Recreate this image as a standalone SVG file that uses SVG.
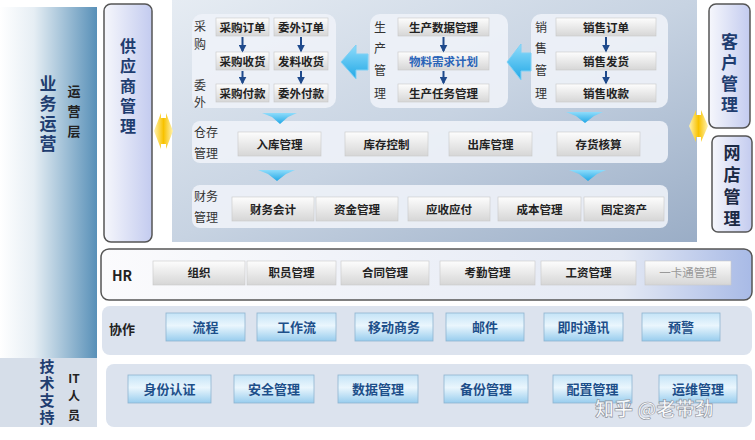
<svg xmlns="http://www.w3.org/2000/svg" width="755" height="440" viewBox="0 0 755 440">
<defs>
<linearGradient id="gLeft" x1="0" y1="0" x2="1" y2="0"><stop offset="0" stop-color="#ffffff"/><stop offset="0.35" stop-color="#e6eef4"/><stop offset="1" stop-color="#5890b8"/></linearGradient>
<linearGradient id="gSide" x1="0" y1="0" x2="1" y2="0"><stop offset="0" stop-color="#f6f7fc"/><stop offset="1" stop-color="#c3cbef"/></linearGradient>
<linearGradient id="gMain" x1="0" y1="0" x2="1" y2="1"><stop offset="0" stop-color="#e6ecf3"/><stop offset="0.5" stop-color="#c7d3e2"/><stop offset="1" stop-color="#9aadc6"/></linearGradient>
<linearGradient id="gBtn" x1="0" y1="0" x2="0" y2="1"><stop offset="0" stop-color="#fdfdfd"/><stop offset="1" stop-color="#d6d6d6"/></linearGradient>
<linearGradient id="gHR" x1="0" y1="0" x2="1" y2="0"><stop offset="0" stop-color="#fbfbfd"/><stop offset="0.8" stop-color="#e4e9f4"/><stop offset="1" stop-color="#a8bae6"/></linearGradient>
<linearGradient id="gBlue" x1="0" y1="0" x2="0" y2="1"><stop offset="0" stop-color="#c4e3f7"/><stop offset="0.45" stop-color="#eaf6fd"/><stop offset="1" stop-color="#98cdee"/></linearGradient>
<linearGradient id="gCyan" x1="0" y1="0" x2="0" y2="1"><stop offset="0" stop-color="#8fdcfb"/><stop offset="1" stop-color="#22a8e6"/></linearGradient>
<linearGradient id="gGold" x1="0" y1="0" x2="1" y2="0"><stop offset="0" stop-color="#fff2b0"/><stop offset="0.5" stop-color="#f8c200"/><stop offset="1" stop-color="#fff2b0"/></linearGradient>
<marker id="ah" viewBox="0 0 10 10" refX="8" refY="5" markerWidth="4" markerHeight="4" orient="auto"><path d="M0,0 L10,5 L0,10 z" fill="#1f4a8c"/></marker>
<style>
text{font-family:"Noto Sans CJK SC","Noto Sans",sans-serif;font-weight:bold;}
.btn{fill:url(#gBtn);stroke:#c8c8c8;stroke-width:0.6;}
.bb{fill:url(#gBlue);stroke:#8fb4cf;stroke-width:0.8;}
.bt{font-size:11.5px;fill:#222;text-anchor:middle;}
.bbt{font-size:13px;fill:#1d4f8a;text-anchor:middle;}
.wbox{fill:#eef2f8;fill-opacity:0.9;}
.lab{font-size:12px;fill:#333;font-weight:normal;}
.side{fill:url(#gSide);stroke:#555;stroke-width:1.5;}
.vw{writing-mode:vertical-rl;text-anchor:start;fill:#1f3d70;}
.nv{fill:#1f3d70;text-anchor:middle;}
.arr{stroke:#1f4a8c;stroke-width:2;marker-end:url(#ah);}
.chev{fill:url(#gCyan);}
.big{fill:url(#gCyan);stroke:#7fd0f5;stroke-width:1;}
.gold{fill:url(#gGold);}
</style>
</defs>
<rect width="755" height="440" fill="#ffffff"/>

<g id="left-ops">
<rect x="0" y="7" width="97" height="351" fill="url(#gLeft)"/>
<text class="vw" x="48" y="75.5" style="font-size:17px;letter-spacing:3px">业务运营</text>
<text class="nv" font-size="13" style="fill:#222"><tspan x="74" y="96">运</tspan><tspan x="74" y="116">营</tspan><tspan x="74" y="136">层</tspan></text>
</g>
<g id="left-tech">
<rect x="0" y="358" width="97" height="69" fill="#d6dee9"/>
<text class="vw" x="47" y="359" style="font-size:15px;letter-spacing:2px">技术支持</text>
<text class="nv" font-size="12" style="fill:#222"><tspan x="74" y="383">IT</tspan><tspan x="74" y="401">人</tspan><tspan x="74" y="420">员</tspan></text>
</g>

<g id="supplier">
<rect class="side" x="104" y="4" width="48" height="238" rx="7"/>
<text class="vw" x="128" y="38" style="font-size:16px;letter-spacing:4px">供应商管理</text>
</g>

<g id="main-panel">
<rect x="172" y="0" width="525" height="242" fill="url(#gMain)"/>
</g>

<g id="purchase">
<rect class="wbox" x="192" y="14" width="144" height="94" rx="10"/>
<text class="lab"><tspan x="194" y="31">采</tspan><tspan x="194" y="49">购</tspan><tspan x="194" y="90">委</tspan><tspan x="194" y="107">外</tspan></text>
<rect class="btn" x="216" y="18" width="53" height="18"/><text class="bt" x="242.5" y="31.5">采购订单</text>
<rect class="btn" x="274" y="18" width="54" height="18"/><text class="bt" x="301" y="31.5">委外订单</text>
<rect class="btn" x="216" y="52" width="53" height="18"/><text class="bt" x="242.5" y="65.5">采购收货</text>
<rect class="btn" x="274" y="52" width="54" height="18"/><text class="bt" x="301" y="65.5">发料收货</text>
<rect class="btn" x="216" y="84" width="53" height="18"/><text class="bt" x="242.5" y="97.5">采购付款</text>
<rect class="btn" x="274" y="84" width="54" height="18"/><text class="bt" x="301" y="97.5">委外付款</text>
</g>

<g id="production">
<rect class="wbox" x="370" y="14" width="138" height="94" rx="10"/>
<text class="lab" font-size="13"><tspan x="374" y="32">生</tspan><tspan x="374" y="53">产</tspan><tspan x="374" y="75">管</tspan><tspan x="374" y="98">理</tspan></text>
<rect class="btn" x="398" y="18" width="91" height="18"/><text class="bt" x="443.5" y="31.5">生产数据管理</text>
<rect class="btn" x="398" y="52" width="91" height="18"/><text class="bt" x="443.5" y="65.5" style="fill:#2a64b8">物料需求计划</text>
<rect class="btn" x="398" y="84" width="91" height="18"/><text class="bt" x="443.5" y="97.5">生产任务管理</text>
</g>

<g id="sales">
<rect class="wbox" x="531" y="14" width="137" height="94" rx="10"/>
<text class="lab" font-size="13"><tspan x="535" y="32">销</tspan><tspan x="535" y="53">售</tspan><tspan x="535" y="75">管</tspan><tspan x="535" y="98">理</tspan></text>
<rect class="btn" x="556" y="18" width="100" height="18"/><text class="bt" x="606" y="31.5">销售订单</text>
<rect class="btn" x="556" y="52" width="100" height="18"/><text class="bt" x="606" y="65.5">销售发货</text>
<rect class="btn" x="556" y="84" width="100" height="18"/><text class="bt" x="606" y="97.5">销售收款</text>
</g>

<g id="warehouse">
<rect class="wbox" x="192" y="121" width="476" height="42" rx="8"/>
<text class="lab"><tspan x="194" y="137">仓存</tspan><tspan x="194" y="158">管理</tspan></text>
<rect class="btn" x="238" y="132" width="83" height="24"/><text class="bt" x="279.5" y="148.5">入库管理</text>
<rect class="btn" x="345" y="132" width="83" height="24"/><text class="bt" x="386.5" y="148.5">库存控制</text>
<rect class="btn" x="449" y="132" width="83" height="24"/><text class="bt" x="490.5" y="148.5">出库管理</text>
<rect class="btn" x="557" y="132" width="83" height="24"/><text class="bt" x="598.5" y="148.5">存货核算</text>
</g>

<g id="finance">
<rect class="wbox" x="192" y="185" width="476" height="43" rx="8"/>
<text class="lab"><tspan x="194" y="201">财务</tspan><tspan x="194" y="222">管理</tspan></text>
<rect class="btn" x="232" y="197" width="82" height="24"/><text class="bt" x="273" y="213.5">财务会计</text>
<rect class="btn" x="316" y="197" width="82" height="24"/><text class="bt" x="357" y="213.5">资金管理</text>
<rect class="btn" x="408" y="197" width="82" height="24"/><text class="bt" x="449" y="213.5">应收应付</text>
<rect class="btn" x="498" y="197" width="83" height="24"/><text class="bt" x="539.5" y="213.5">成本管理</text>
<rect class="btn" x="584" y="197" width="80" height="24"/><text class="bt" x="624" y="213.5">固定资产</text>
</g>

<g id="customer">
<rect class="side" x="709" y="4" width="41" height="124" rx="7"/>
<text class="vw" x="729.5" y="33.5" style="font-size:17px;letter-spacing:3.7px">客户管理</text>
</g>
<g id="eshop">
<rect class="side" x="712" y="136" width="40" height="96" rx="6"/>
<text class="vw" x="732" y="144.5" style="font-size:17px;letter-spacing:5px;fill:#1c2a44">网店管理</text>
</g>

<g id="hr">
<rect x="101" y="249" width="651" height="51" rx="8" fill="url(#gHR)" stroke="#555" stroke-width="1.5"/>
<text x="112" y="281" font-size="14" fill="#222" font-family="Liberation Sans,sans-serif">HR</text>
<rect class="btn" x="153" y="261" width="92" height="24"/><text class="bt" x="199" y="277">组织</text>
<rect class="btn" x="247" y="261" width="89" height="24"/><text class="bt" x="291.5" y="277">职员管理</text>
<rect class="btn" x="341" y="261" width="88" height="24"/><text class="bt" x="385" y="277">合同管理</text>
<rect class="btn" x="440" y="261" width="95" height="24"/><text class="bt" x="487.5" y="277">考勤管理</text>
<rect class="btn" x="541" y="261" width="95" height="24"/><text class="bt" x="588.5" y="277">工资管理</text>
<rect class="btn" x="645" y="261" width="86" height="24"/><text class="bt" x="688" y="277" style="fill:#999;font-weight:normal">一卡通管理</text>
</g>

<g id="collab">
<rect x="102" y="306" width="650" height="49" rx="8" fill="#dce3ee"/>
<text x="109" y="334" font-size="13" fill="#222">协作</text>
<rect class="bb" x="166" y="313" width="79" height="28"/><text class="bbt" x="205.5" y="332">流程</text>
<rect class="bb" x="257" y="313" width="79" height="28"/><text class="bbt" x="296.5" y="332">工作流</text>
<rect class="bb" x="355" y="313" width="78" height="28"/><text class="bbt" x="394" y="332">移动商务</text>
<rect class="bb" x="446" y="313" width="78" height="28"/><text class="bbt" x="485" y="332">邮件</text>
<rect class="bb" x="544" y="313" width="79" height="28"/><text class="bbt" x="583.5" y="332">即时通讯</text>
<rect class="bb" x="642" y="313" width="78" height="28"/><text class="bbt" x="681" y="332">预警</text>
</g>

<g id="it">
<rect x="106" y="364" width="646" height="63" rx="8" fill="#dce3ee"/>
<rect class="bb" x="128" y="375" width="83" height="28"/><text class="bbt" x="169.5" y="394">身份认证</text>
<rect class="bb" x="234" y="375" width="80" height="28"/><text class="bbt" x="274" y="394">安全管理</text>
<rect class="bb" x="338" y="375" width="80" height="28"/><text class="bbt" x="378" y="394">数据管理</text>
<rect class="bb" x="444" y="375" width="84" height="28"/><text class="bbt" x="486" y="394">备份管理</text>
<rect class="bb" x="553" y="375" width="79" height="28"/><text class="bbt" x="592.5" y="394">配置管理</text>
<rect class="bb" x="659" y="375" width="78" height="28"/><text class="bbt" x="698" y="394">运维管理</text>
</g>

<g id="connectors">
<line class="arr" x1="242.5" y1="37" x2="242.5" y2="51"/>
<line class="arr" x1="301" y1="37" x2="301" y2="51"/>
<line class="arr" x1="242.5" y1="71" x2="242.5" y2="83"/>
<line class="arr" x1="301" y1="71" x2="301" y2="83"/>
<line class="arr" x1="443.5" y1="37" x2="443.5" y2="51"/>
<line class="arr" x1="443.5" y1="71" x2="443.5" y2="83"/>
<line class="arr" x1="606" y1="37" x2="606" y2="51"/>
<line class="arr" x1="606" y1="71" x2="606" y2="83"/>
<polygon class="big" points="341,62 356,45 356,54 368,54 368,70 356,70 356,79"/>
<polygon class="big" points="507,62 521,44 521,53 531,53 531,71 521,71 521,80"/>
<polygon class="chev" points="262,113 297,113 288,117 280,124 272,117"/>
<polygon class="chev" points="566,112 603,112 594,116 585,123 576,116"/>
<polygon class="chev" points="258,170 295,170 286,174 277,181 268,174"/>
<polygon class="chev" points="569,170 606,170 597,174 588,181 579,174"/>
<polygon class="gold" points="154,131 161,113 161,118 166,118 166,113 173,131 166,149 166,144 161,144 161,149"/>
<polygon class="gold" points="689,126 696,110 696,115 701,115 701,110 708,126 701,142 701,137 696,137 696,142"/>
</g>

<g id="watermark">
<text x="595" y="416" font-size="19" font-weight="normal" fill="#ffffff" fill-opacity="0.9" stroke="#8a8f99" stroke-width="0.6">知乎 @老带劲</text>
</g>
</svg>
